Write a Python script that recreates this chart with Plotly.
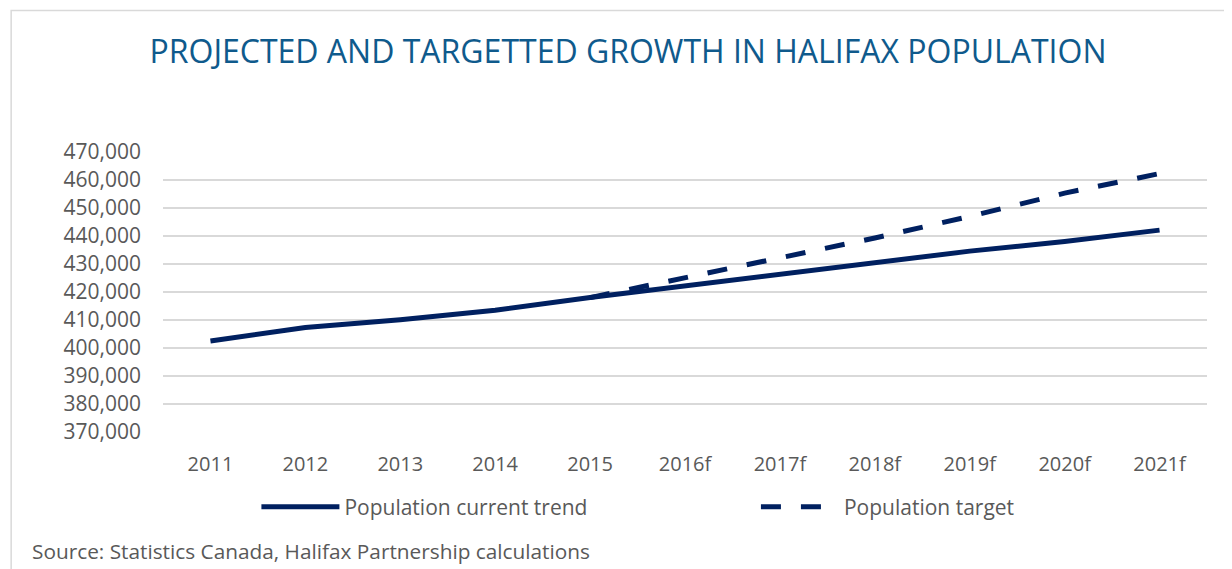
import plotly.graph_objects as go

years = ["2011", "2012", "2013", "2014", "2015", "2016f", "2017f", "2018f", "2019f", "2020f", "2021f"]
current_trend = [402500, 407300, 410100, 413500, 418000, 422100, 426000, 430200, 434600, 438000, 442100]
target_years = ["2015", "2016f", "2017f", "2018f", "2019f", "2020f", "2021f"]
target = [418000, 425000, 432400, 439300, 447000, 455300, 462300]

NAVY = "#002060"
GREY_TXT = "#595959"
FONT = "Open Sans"

# the page body adds an 8px margin; work in page pixels and shift
OFF = 8
W, H = 1232 - OFF, 569 - OFF
L, R, T, B = 162.5 - OFF, 1207.5 - OFF, 152 - OFF, 432 - OFF
pw, ph = R - L, B - T

def px(x):
    return (x - OFF - L) / pw

def py(y):
    return (B - (y - OFF)) / ph

fig = go.Figure()
fig.add_trace(go.Scatter(x=years, y=current_trend, mode="lines", name="Population current trend",
                         line=dict(color=NAVY, width=5), legend="legend"))
fig.add_trace(go.Scatter(x=target_years, y=target, mode="lines", name="Population target",
                         line=dict(color=NAVY, width=5, dash="20px,20px"), legend="legend2"))

legend_common = dict(orientation="h", yanchor="middle", xanchor="left",
                     font=dict(size=21, color=GREY_TXT), itemwidth=78,
                     bgcolor="rgba(0,0,0,0)")

fig.update_layout(
    width=W, height=H,
    margin=dict(l=L, r=W - R, t=T, b=H - B),
    paper_bgcolor="white", plot_bgcolor="white",
    font=dict(family=FONT, color=GREY_TXT, size=20),
    title=dict(text="PROJECTED AND TARGETTED GROWTH IN HALIFAX POPULATION",
               font=dict(family=FONT, size=32, color="#0f5a8c"),
               xref="container", x=(628 - OFF) / W, xanchor="center",
               yref="container", y=1 - (52 - OFF) / H, yanchor="middle"),
    xaxis=dict(type="category", categoryorder="array", categoryarray=years,
               range=[-0.5, 10.5], showgrid=False, showline=False, zeroline=False,
               ticks="", tickfont=dict(size=20, color=GREY_TXT), ticklabelstandoff=18),
    yaxis=dict(range=[370000, 470000], dtick=10000, tick0=370000, tickformat=",",
               showgrid=True, gridcolor="#d9d9d9", gridwidth=1.5, zeroline=False, showline=False,
               ticks="", tickfont=dict(size=21, color=GREY_TXT), ticklabelstandoff=21),
    legend=dict(x=px(256), y=py(507), **legend_common),
    legend2=dict(x=px(756), y=py(507), **legend_common),
    showlegend=True,
    shapes=[dict(type="rect", xref="paper", yref="paper",
                 x0=px(10.5), x1=px(1260), y0=py(620), y1=py(10.5),
                 line=dict(color="#d9d9d9", width=1.5), fillcolor="rgba(0,0,0,0)", layer="below")],
    annotations=[dict(text="Source: Statistics Canada, Halifax Partnership calculations",
                      xref="paper", yref="paper", x=px(29), y=py(551),
                      xanchor="left", yanchor="middle", showarrow=False,
                      font=dict(size=20.8, color=GREY_TXT, family=FONT))],
)

fig.write_html("out.html")
